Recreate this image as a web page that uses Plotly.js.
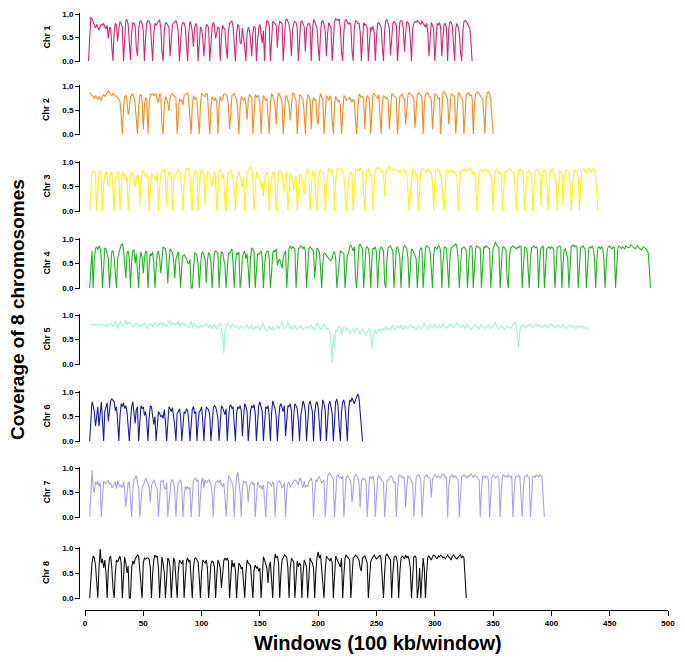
<!DOCTYPE html>
<html>
<head>
<meta charset="utf-8">
<script src="https://cdn.plot.ly/plotly-3.0.1.min.js"></script>
<style>
  body { margin: 0; background: #fff; }
  #chart { width: 685px; height: 662px; }
</style>
</head>
<body>
<div id="chart"></div>
<script>
// coverage per 100 kb window, in percent
var chrNames = ['Chr 1', 'Chr 2', 'Chr 3', 'Chr 4', 'Chr 5', 'Chr 6', 'Chr 7', 'Chr 8'];
var chrStart = [3, 4, 4, 4, 4, 4, 4, 4]; // first window of each series
var chrColors = ['#D6247A', '#F68B21', '#FFF212', '#20B520', '#A6F0DA', '#1B1BB0', '#A8A3EE', '#111111'];

var chr1 = [
0,55,93,90,82,76,70,78,72,66,74,78,76,80,72,68,76,48,72,70,
30,0,62,80,76,42,68,84,80,72,0,58,86,88,78,40,2,60,82,80,
74,30,10,66,84,86,80,62,0,50,82,86,84,78,30,0,58,80,76,82,
84,88,70,20,0,64,82,80,76,72,10,40,78,80,84,86,78,60,0,44,
76,82,80,72,20,0,60,84,78,62,30,70,80,74,0,45,72,68,50,10,
60,78,76,70,0,30,72,82,76,48,60,72,70,0,52,76,70,68,30,5,
62,80,82,86,72,20,0,56,78,74,40,36,70,48,30,0,58,72,66,44,
10,60,74,70,0,42,70,78,56,38,64,0,70,86,84,76,0,50,84,82,
80,76,28,70,84,82,80,0,60,86,90,84,78,60,10,66,80,84,82,70,
0,40,82,86,80,72,20,68,78,80,76,0,62,88,84,76,70,30,0,60,
84,86,78,64,10,56,82,76,70,0,60,84,90,88,86,90,70,20,0,62,
86,88,84,78,82,76,22,0,70,86,84,80,80,62,0,55,82,76,78,70,
0,40,72,66,74,60,0,52,80,82,76,72,30,0,66,86,88,80,70,12,
56,80,84,78,76,0,48,82,86,84,70,20,60,84,82,76,48,0,68,80,
84,82,86,82,80,78,84,80,76,72,80,60,10,62,82,76,68,0,44,80,
76,82,72,10,50,78,80,70,0,68,84,82,76,30,0,70,80,72,60,20,
0,60,84,86,84,80,74,70,40,0];

var chr2 = [
86,84,80,78,74,80,76,72,78,74,70,80,82,78,84,86,90,84,82,80,
84,82,80,78,76,72,68,40,0,50,78,80,70,40,50,78,82,84,76,62,
30,0,56,80,82,70,10,60,76,70,0,62,82,84,84,80,82,84,70,66,
84,82,20,0,60,78,72,66,48,76,82,84,80,78,76,0,52,74,68,72,
60,80,82,84,86,70,40,0,58,80,72,76,70,20,0,60,84,82,80,78,
84,82,40,0,52,78,72,70,76,66,0,60,78,70,72,82,84,80,78,60,
10,40,80,82,84,78,70,48,0,56,78,74,70,76,62,30,70,82,80,76,
0,50,82,76,80,78,62,0,60,80,76,70,74,40,0,62,84,80,72,56,
20,70,86,80,76,66,0,40,76,80,70,60,28,68,86,84,78,70,0,50,
82,80,76,72,40,0,64,82,78,72,10,64,76,70,72,30,20,70,84,76,
70,0,54,80,76,70,80,74,28,0,62,78,72,68,70,60,0,56,80,78,
70,72,74,76,70,66,72,68,30,0,50,84,80,76,78,72,10,62,80,76,
72,0,44,82,84,80,78,74,82,30,0,64,80,78,74,76,70,10,60,84,
82,80,78,74,0,56,78,80,84,76,72,20,60,82,86,84,80,78,74,12,
50,82,86,84,80,76,0,60,82,84,86,80,78,72,10,48,84,82,80,72,
76,0,48,86,88,84,80,74,20,56,84,82,80,78,0,44,86,84,80,76,
70,0,60,82,84,86,80,82,76,0,58,84,86,88,84,80,78,72,40,0,
70,86,88,84,70,20,0];

var chr3 = [
0,50,80,78,82,76,0,40,78,82,70,0,56,74,80,70,50,62,78,80,
40,0,60,72,80,78,0,48,76,80,72,62,70,0,40,72,78,76,68,50,
64,74,70,10,60,80,82,76,68,74,70,0,56,78,72,66,70,62,80,0,
48,76,82,86,84,70,10,68,80,78,72,0,60,74,76,82,84,80,70,40,
0,60,80,86,84,88,76,20,0,70,80,82,74,0,52,78,84,80,72,10,
66,80,78,74,62,50,70,80,72,0,40,82,84,80,66,74,10,0,62,78,
80,82,76,66,50,0,56,74,80,70,60,48,66,0,40,80,82,88,90,84,
62,0,58,80,76,70,64,48,56,30,64,76,80,72,0,50,72,80,78,60,
0,46,80,84,82,76,62,40,70,80,0,52,76,70,56,44,66,72,0,36,
72,74,68,48,36,70,82,84,80,0,56,80,82,76,30,0,54,80,84,82,
76,70,0,48,74,86,84,80,82,70,0,60,82,86,88,84,86,80,74,40,
0,40,62,72,80,76,0,46,82,86,84,82,88,84,80,30,0,60,84,86,
80,72,62,0,56,84,86,90,88,84,80,82,76,30,76,84,88,92,86,84,
82,84,86,84,82,80,84,78,80,82,84,76,72,40,0,30,66,84,82,80,
76,62,0,44,80,84,86,84,82,80,86,84,80,78,60,0,62,84,86,82,
80,72,60,20,0,50,82,86,80,82,84,78,82,80,76,70,0,54,80,82,
84,80,86,84,82,86,88,84,80,74,80,60,0,40,80,84,82,80,84,86,
80,84,82,78,72,60,0,58,82,86,80,76,78,72,0,40,78,82,80,84,
86,84,80,78,76,30,0,62,84,82,86,80,74,0,52,78,80,82,76,70,
0,46,80,84,86,82,80,10,66,82,84,80,74,0,60,82,84,86,80,72,
60,0,56,82,80,76,10,66,80,84,82,78,62,0,40,78,84,82,80,70,
0,52,82,86,84,80,78,84,86,82,80,84,86,82,70,30,0];

var chr4 = [
0,40,76,0,60,80,84,78,86,82,60,0,56,82,80,70,60,0,50,74,
76,62,30,0,60,72,80,88,90,80,40,20,70,76,60,0,54,76,78,50,
70,40,0,58,74,62,30,60,76,72,0,46,70,66,74,52,0,40,70,76,
60,30,68,84,82,80,62,10,50,80,76,72,56,20,60,70,74,44,0,44,
66,68,64,60,52,50,58,0,0,48,72,70,66,50,0,40,70,74,68,60,
10,56,72,70,52,0,40,72,76,74,70,0,48,74,72,62,46,0,40,72,
70,76,80,50,0,50,72,68,74,0,20,64,70,76,60,70,40,0,62,82,
78,74,0,36,70,68,74,76,60,0,46,70,74,76,60,0,30,72,76,74,
80,46,56,58,50,40,62,70,76,0,50,82,86,80,84,82,80,0,46,80,
82,86,84,80,84,76,0,40,80,84,82,80,76,20,60,82,78,74,40,0,
50,72,70,66,62,60,58,56,60,72,74,60,0,30,62,76,74,72,70,0,
40,68,70,84,88,80,76,84,20,0,60,86,90,84,80,0,46,82,84,80,
62,0,54,82,80,84,72,0,50,80,84,80,76,10,0,60,82,84,86,80,
78,0,40,80,84,76,62,0,56,82,86,84,80,60,0,56,80,78,72,70,
60,0,48,76,82,80,0,50,80,86,84,82,74,20,0,64,84,82,80,86,
84,76,0,52,82,84,80,40,0,60,82,84,86,88,90,84,60,0,54,80,
82,84,80,76,0,40,84,86,82,0,56,80,86,84,82,80,0,52,84,82,
86,84,82,80,0,52,82,86,94,88,84,82,0,44,82,84,80,78,20,0,
62,82,84,86,84,82,80,84,82,86,84,0,60,84,82,80,40,0,60,82,
84,86,82,84,80,0,56,80,84,86,0,52,80,82,84,80,84,82,78,0,
48,82,84,86,84,0,50,78,80,72,60,0,52,84,86,88,84,86,82,0,
40,82,84,86,82,80,0,56,80,84,82,86,80,60,0,58,82,84,80,84,
80,60,0,46,80,84,86,82,80,84,82,0,50,82,86,84,80,84,82,80,
86,84,82,84,88,86,84,82,80,84,86,82,80,78,80,84,82,80,76,72,
40,0];

var chr5 = [
82,80,80,82,79,81,80,78,80,82,80,79,81,78,76,80,78,82,84,80,
76,84,88,80,72,80,86,82,78,80,84,90,80,86,82,84,80,76,78,82,
84,80,78,80,76,80,82,84,80,72,78,80,82,80,76,82,84,80,78,82,
80,86,82,78,84,80,76,82,86,90,80,84,82,78,84,80,88,76,82,80,
84,82,78,80,76,74,80,88,72,84,80,76,78,72,76,80,74,78,76,80,
82,78,74,80,76,72,78,80,76,70,78,80,84,74,60,22,66,78,84,80,
76,72,80,82,76,74,78,76,72,74,78,76,74,72,76,80,74,72,76,78,
72,70,76,74,78,72,70,74,80,84,72,70,66,74,78,72,70,76,68,72,
74,78,72,76,82,86,78,70,74,80,86,76,72,78,70,74,80,72,70,74,
76,78,74,70,72,76,74,78,72,76,80,72,76,70,74,84,80,76,70,72,
78,82,76,70,74,72,60,40,2,60,30,70,66,72,78,74,60,70,76,72,
68,74,70,62,66,70,72,64,68,74,70,64,60,68,72,66,62,58,66,70,
72,68,30,56,66,70,62,68,72,66,70,74,68,72,76,70,74,72,68,76,
78,72,70,74,78,76,72,80,74,70,76,78,74,72,76,80,78,74,76,72,
70,74,78,76,72,74,80,84,78,74,72,76,80,76,74,78,82,76,72,78,
80,74,76,82,78,74,72,76,80,78,82,76,74,78,80,84,78,76,74,78,
80,76,72,78,82,76,74,70,72,76,80,78,74,76,72,78,80,76,74,72,
76,78,80,74,72,76,78,82,84,78,76,72,74,78,76,72,70,74,78,76,
74,72,76,80,82,86,78,60,34,70,78,76,80,78,74,76,80,82,78,76,
74,78,80,82,78,76,80,78,74,76,80,78,76,74,78,80,82,78,76,74,
76,80,78,76,74,78,80,76,74,72,76,78,80,76,74,78,76,72,74,78,
76,74,78,76,72,74,76,72,70,68];

var chr6 = [
0,50,80,72,60,30,56,70,30,50,80,40,0,60,72,78,40,60,82,86,
84,80,62,70,40,0,50,76,70,78,66,72,60,30,0,40,70,80,62,36,
64,70,0,50,72,66,70,52,60,40,0,46,72,70,48,34,50,0,30,60,
56,50,52,46,64,40,0,40,70,66,60,68,52,30,0,56,60,66,50,0,
30,60,56,66,62,40,0,46,64,70,56,60,0,38,60,62,70,40,0,46,
70,66,64,52,0,30,66,72,70,60,46,0,44,72,68,60,54,66,0,40,
70,74,66,70,40,0,56,70,66,72,62,10,50,76,70,60,0,30,62,72,
68,74,56,0,40,72,80,70,60,0,48,70,66,72,50,0,56,82,74,66,
50,0,40,70,76,66,60,72,10,40,72,70,76,62,0,52,76,72,66,40,
0,50,72,82,74,60,0,36,74,82,70,60,0,56,76,80,68,40,0,60,
84,76,62,0,46,74,82,70,56,0,40,80,86,72,30,0,60,80,84,70,
40,0,60,84,80,88,82,76,84,92,96,88,60,20,0];

var chr7 = [
0,70,96,60,50,72,66,74,62,70,0,40,74,70,68,72,74,66,70,60,
62,68,72,58,74,66,62,64,60,72,56,20,50,70,72,40,0,56,74,80,
84,70,60,0,40,60,64,74,80,72,70,60,30,64,72,76,70,60,56,0,
50,74,72,76,60,56,70,0,30,60,74,76,70,50,0,48,70,72,76,60,
0,40,62,58,62,56,60,0,50,74,78,80,72,76,0,40,74,80,60,76,
70,72,76,72,66,50,0,56,70,72,74,70,76,66,62,70,44,0,56,84,
80,76,70,60,0,50,82,92,70,50,0,60,74,70,72,64,30,60,68,72,
66,70,0,40,72,66,60,64,56,66,40,0,56,72,70,68,62,72,66,0,
44,70,72,74,68,60,62,70,0,52,68,72,60,66,70,72,76,74,70,66,
78,80,66,60,74,60,64,62,72,76,80,70,0,48,76,72,80,82,76,70,
72,76,0,40,82,88,90,84,80,78,0,56,84,86,80,82,78,84,0,40,
80,84,82,76,72,30,60,82,86,84,80,70,20,70,80,76,78,72,0,48,
82,80,78,84,70,0,56,80,84,80,76,74,70,0,40,74,76,80,82,84,
76,70,72,0,54,82,86,84,80,82,76,20,60,84,82,80,72,70,0,46,
80,84,86,82,76,0,52,80,84,86,82,80,78,40,76,82,86,84,80,84,
82,80,86,88,84,80,82,0,60,82,84,86,80,84,82,80,76,0,50,82,
84,86,82,80,84,82,86,88,84,80,86,84,82,80,76,0,56,82,84,80,
84,82,76,0,40,82,86,84,80,82,84,80,0,50,84,86,82,84,80,86,
82,80,84,0,48,80,84,82,86,80,40,0,60,82,84,86,82,80,0,50,
82,84,80,86,84,82,86,84,80,40,0];

var chr8 = [
0,40,70,84,80,66,40,0,60,98,70,78,60,76,50,0,56,80,84,60,
20,0,50,76,72,80,84,70,0,40,82,70,50,64,0,0,60,74,68,78,
82,86,84,50,20,0,70,80,78,80,80,78,60,0,48,76,86,82,84,60,
0,40,82,70,50,0,56,80,76,60,0,44,80,74,40,0,52,76,72,68,
76,0,40,74,80,72,76,30,0,60,78,80,74,72,40,0,52,76,72,70,
76,60,0,38,68,74,72,62,0,44,76,70,60,20,56,74,80,76,80,74,
0,50,76,62,70,56,0,40,70,66,58,62,30,0,50,76,70,68,64,20,
0,56,66,60,62,54,60,0,40,82,76,70,60,30,64,72,30,0,60,88,
80,84,70,0,48,76,80,86,84,82,60,0,60,80,76,72,0,46,74,62,
70,66,0,50,76,70,62,0,40,80,74,70,60,0,52,82,92,80,86,60,
30,0,56,84,80,78,74,80,70,0,42,84,78,72,66,62,80,0,44,80,
86,82,80,76,0,40,80,82,86,84,80,76,60,54,80,82,84,78,70,0,
30,72,78,84,86,82,78,80,84,86,76,40,0,52,84,88,82,80,76,0,
48,80,84,82,70,0,50,80,84,82,78,86,80,84,76,60,0,52,82,84,
80,0,20,60,0,40,80,60,0,50,82,84,80,76,82,86,84,80,78,84,
82,86,84,80,82,78,84,86,82,80,76,84,86,82,80,78,82,84,86,80,
84,80,40,0];

var xTicks = [0, 50, 100, 150, 200, 250, 300, 350, 400, 450, 500];

var allChr = [chr1, chr2, chr3, chr4, chr5, chr6, chr7, chr8];

// page geometry (pixels in the 685 x 662 picture)
var W = 685, H = 662;
var panelTop = [14, 86, 162, 239, 315, 392, 468, 548];   // y of 1.0
var panelBottom = [61, 134, 211, 288, 364, 441, 517, 598]; // y of 0.0
var xLeft = 85, xRight = 668, yAxisX = 79, xAxisY = 610;

var boldFont = 'Liberation Sans, Arial, sans-serif';

var data = [];
var layout = {
    width: W,
    height: H,
    margin: {l: 0, r: 0, t: 0, b: 0},
    paper_bgcolor: '#fff',
    plot_bgcolor: 'rgba(0,0,0,0)',
    showlegend: false,
    xaxis: {
        domain: [xLeft / W, xRight / W],
        range: [0, 500],
        anchor: 'free',
        position: 1 - xAxisY / H,
        tickvals: xTicks,
        ticks: 'outside',
        ticklen: 5,
        tickwidth: 1,
        tickcolor: '#000',
        showline: true,
        linecolor: '#000',
        linewidth: 1,
        showgrid: false,
        zeroline: false,
        tickfont: {family: boldFont, size: 8, color: '#000', weight: 'bold'}
    },
    annotations: []
};

for (var k = 0; k < allChr.length; k++) {
    var xs = [];
    for (var i = 0; i < allChr[k].length; i++) {
        xs.push(chrStart[k] + i);
    }
    var ys = allChr[k].map(function (v) { return v / 100; });
    var axName = k === 0 ? 'y' : 'y' + (k + 1);
    data.push({
        type: 'scatter',
        mode: 'lines',
        x: xs,
        y: ys,
        xaxis: 'x',
        yaxis: axName,
        line: {color: chrColors[k], width: 1.1},
        hoverinfo: 'skip'
    });

    // pad the range by one pixel so the zero line isn't clipped
    var span = panelBottom[k] - panelTop[k];
    var pad = 1 / span;
    layout[k === 0 ? 'yaxis' : 'yaxis' + (k + 1)] = {
        domain: [1 - (panelBottom[k] + 1) / H, 1 - (panelTop[k] - 1) / H],
        range: [-pad, 1 + pad],
        anchor: 'free',
        position: yAxisX / W,
        tickvals: [0, 0.5, 1],
        ticktext: ['0.0', '0.5', '1.0'],
        ticks: 'outside',
        ticklen: 4,
        tickwidth: 1,
        tickcolor: '#000',
        showline: true,
        linecolor: '#000',
        linewidth: 1,
        showgrid: false,
        zeroline: false,
        tickfont: {family: boldFont, size: 8, color: '#000', weight: 'bold'}
    };

    layout.annotations.push({
        text: chrNames[k],
        textangle: -90,
        xref: 'paper', yref: 'paper',
        x: 46 / W,
        y: 1 - (panelTop[k] + panelBottom[k]) / 2 / H,
        xanchor: 'center', yanchor: 'middle',
        showarrow: false,
        font: {family: boldFont, size: 9, color: '#000', weight: 'bold'}
    });
}

// shared titles
layout.annotations.push({
    text: 'Coverage of 8 chromosomes',
    textangle: -90,
    xref: 'paper', yref: 'paper',
    x: 17 / W, y: 1 - 310 / H,
    xanchor: 'center', yanchor: 'middle',
    showarrow: false,
    font: {family: boldFont, size: 19, color: '#000', weight: 'bold'}
});
layout.annotations.push({
    text: 'Windows (100 kb/window)',
    xref: 'paper', yref: 'paper',
    x: 378 / W, y: 1 - 643 / H,
    xanchor: 'center', yanchor: 'middle',
    showarrow: false,
    font: {family: boldFont, size: 20, color: '#000', weight: 'bold'}
});

Plotly.newPlot('chart', data, layout, {displayModeBar: false, staticPlot: true});
</script>
</body>
</html>
